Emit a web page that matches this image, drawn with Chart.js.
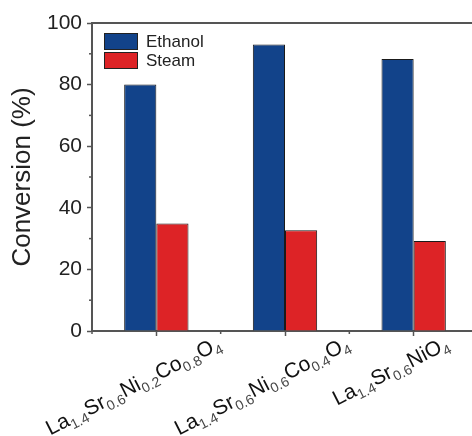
<!DOCTYPE html>
<html>
<head>
<meta charset="utf-8">
<script src="https://cdn.jsdelivr.net/npm/chart.js@4.4.1/dist/chart.umd.min.js"></script>
<style>
    html, body { margin: 0; padding: 0; background: #fff; overflow: hidden; }
    #wrap { width: 480px; height: 436px; }
</style>
</head>
<body>
<div id="wrap"><canvas id="grafica" width="480" height="436"></canvas></div>
<script>
// Datos
const categorias = ['La1.4Sr0.6Ni0.2Co0.8O4', 'La1.4Sr0.6Ni0.6Co0.4O4', 'La1.4Sr0.6NiO4'];
const etanol = [80, 93, 88.3];
const vapor = [34.9, 32.7, 29.2];
const seriesNombres = ['Ethanol', 'Steam'];
const ticksY = [0, 20, 40, 60, 80, 100];
const ticksMenoresY = [10, 30, 50, 70, 90];

const FUENTE = "'Liberation Sans', Arial, sans-serif";
const COLOR_EJE = '#555';

// Parte una fórmula en trozos normales y subíndices
const partirFormula = (texto) => {
    const trozos = [];
    const re = /([A-Za-z]+)|([\d.]+)/g;
    let m;
    while ((m = re.exec(texto)) !== null) {
        trozos.push({ t: m[0], sub: !!m[2] });
    }
    return trozos;
};

const extras = {
    id: 'extras',
    afterDraw(chart) {
        const ctx = chart.ctx;
        const area = chart.chartArea;
        const x = chart.scales.x;
        const y = chart.scales.y;
        ctx.save();

        // Línea superior del marco
        ctx.strokeStyle = COLOR_EJE;
        ctx.lineWidth = 2;
        ctx.beginPath();
        ctx.moveTo(area.left - 1, area.top);
        ctx.lineTo(area.right + 1, area.top);
        ctx.stroke();

        // Ticks menores
        ctx.lineWidth = 1.5;
        ticksMenoresY.forEach((v) => {
            const py = y.getPixelForValue(v);
            ctx.beginPath();
            ctx.moveTo(area.left, py);
            ctx.lineTo(area.left - 3, py);
            ctx.stroke();
        });
        for (let i = 0; i <= categorias.length; i++) {
            const px = x.getPixelForValue(i - 0.5);
            ctx.beginPath();
            ctx.moveTo(px, area.bottom);
            ctx.lineTo(px, area.bottom + 3);
            ctx.stroke();
        }

        // Leyenda
        const lx = area.left + 12;
        let ly = area.top + 10;
        chart.data.datasets.forEach((ds) => {
            ctx.fillStyle = ds.backgroundColor;
            ctx.fillRect(lx, ly, 34, 17);
            ctx.strokeStyle = '#222';
            ctx.lineWidth = 1;
            ctx.strokeRect(lx + 0.5, ly + 0.5, 33, 16);
            ctx.fillStyle = '#222';
            ctx.font = '17px ' + FUENTE;
            ctx.textBaseline = 'middle';
            ctx.textAlign = 'left';
            ctx.fillText(ds.label, lx + 42, ly + 9);
            ly += 19;
        });

        // Etiquetas del eje X con subíndices
        const ang = 27 * Math.PI / 180;
        const fMain = '21px ' + FUENTE;
        const fSub = '14px ' + FUENTE;
        ctx.textBaseline = 'alphabetic';
        categorias.forEach((cat, i) => {
            const trozos = partirFormula(cat);
            let ancho = 0;
            trozos.forEach((tr) => {
                ctx.font = tr.sub ? fSub : fMain;
                tr.w = ctx.measureText(tr.t).width;
                ancho += tr.w;
            });
            const cx = x.getPixelForValue(i) - 20;
            const finX = cx + (ancho / 2) * Math.cos(ang);
            const finY = area.bottom + 17;
            ctx.save();
            ctx.translate(finX, finY);
            ctx.rotate(-ang);
            let pos = -ancho;
            trozos.forEach((tr) => {
                ctx.font = tr.sub ? fSub : fMain;
                ctx.fillStyle = tr.sub ? '#444' : '#111';
                ctx.fillText(tr.t, pos, tr.sub ? 5 : 0);
                pos += tr.w;
            });
            ctx.restore();
        });

        ctx.restore();
    }
};

const ctxGrafica = document.getElementById('grafica').getContext('2d');
const grafica = new Chart(ctxGrafica, {
    type: 'bar',
    data: {
        labels: categorias,
        datasets: [{
            label: seriesNombres[0],
            data: etanol,
            backgroundColor: '#12438A',
            borderColor: '#1a1a1a',
            borderWidth: 1
        }, {
            label: seriesNombres[1],
            data: vapor,
            backgroundColor: '#DD2326',
            borderColor: '#1a1a1a',
            borderWidth: 1
        }]
    },
    options: {
        responsive: false,
        animation: false,
        layout: { padding: { left: 0, right: 2, top: 23, bottom: 0 } },
        datasets: { bar: { categoryPercentage: 0.5, barPercentage: 1.0 } },
        scales: {
            x: {
                offset: true,
                ticks: { display: false },
                grid: {
                    display: true,
                    offset: false,
                    drawOnChartArea: false,
                    tickLength: 5,
                    tickWidth: 1.5,
                    tickColor: COLOR_EJE
                },
                border: { color: COLOR_EJE, width: 2 },
                afterFit: (s) => { s.height = 105; }
            },
            y: {
                min: 0,
                max: 100,
                afterBuildTicks: (s) => { s.ticks = ticksY.map((v) => ({ value: v })); },
                ticks: {
                    font: { family: FUENTE, size: 21 },
                    color: '#222',
                    padding: 5
                },
                grid: {
                    drawOnChartArea: false,
                    tickLength: 5,
                    tickWidth: 1.5,
                    tickColor: COLOR_EJE
                },
                border: { color: COLOR_EJE, width: 2 },
                title: {
                    display: true,
                    text: 'Conversion (%)',
                    font: { family: FUENTE, size: 26 },
                    color: '#222',
                    padding: { top: 7, bottom: 0 }
                },
                afterFit: (s) => { s.width = 92; }
            }
        },
        plugins: {
            legend: { display: false },
            tooltip: { enabled: false }
        }
    },
    plugins: [extras]
});
</script>
</body>
</html>
